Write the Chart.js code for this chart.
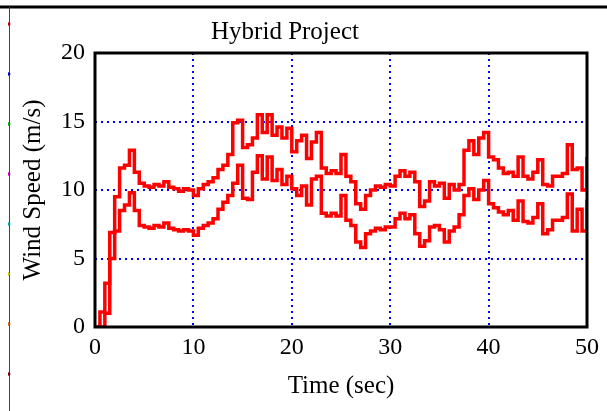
<!DOCTYPE html>
<html>
<head>
<meta charset="utf-8">
<script src="https://cdn.jsdelivr.net/npm/chart.js@4.4.1/dist/chart.umd.min.js"></script>
<style>
  html, body { margin: 0; padding: 0; background: #fff; }
  #wrap { position: relative; width: 607px; height: 411px; }
</style>
</head>
<body>
<div id="wrap"><canvas id="wind-chart" width="607" height="411"></canvas></div>
<script>
// Sample spacing of the traces (sec)
const TIME_STEP = 0.5;

// Upper trace, every 0.5 s from t = 0 to 50
const speedUpper = [
  0, 1.1, 3.2, 6.9, 9.5, 11.6, 11.8, 12.9, 11.3, 10.5,
  10.3, 10.2, 10.4, 10.3, 10.6, 10.2, 10.1, 9.9, 10.1, 10.0,
  9.6, 10.1, 10.4, 10.6, 10.9, 11.5, 11.8, 12.6, 14.9, 15.1,
  13.1, 13.3, 13.8, 15.5, 14.2, 15.5, 14.0, 14.6, 13.8, 14.5,
  12.8, 13.6, 14.0, 12.3, 13.5, 14.2, 11.6, 11.2, 11.4, 11.2,
  12.6, 11.0, 10.6, 9.0, 8.6, 9.6, 10.0, 10.3, 10.2, 10.4,
  10.3, 11.0, 11.4, 11.0, 11.3, 10.6, 8.8, 9.2, 10.6, 10.3,
  10.5, 9.4, 10.4, 10.0, 10.4, 12.9, 13.6, 12.6, 13.8, 14.2,
  12.4, 12.2, 11.6, 11.2, 11.3, 11.0, 12.4, 11.0, 10.8, 11.3,
  12.2, 10.4, 10.3, 11.0, 11.0, 11.2, 13.3, 11.5, 11.6, 10.0,
  12.4
];

// Lower trace, same sampling
const speedLower = [
  0, 0, 1.0, 5.0, 7.0, 8.5, 8.9, 9.8, 8.5, 7.4,
  7.3, 7.2, 7.4, 7.3, 7.6, 7.2, 7.1, 7.0, 7.1, 7.0,
  6.7, 7.2, 7.4, 7.6, 7.9, 8.6, 9.1, 9.6, 10.5, 11.8,
  9.4, 9.3, 11.3, 12.5, 10.8, 12.4, 10.7, 11.5, 10.4, 11.0,
  10.1, 9.6, 10.3, 8.9, 10.8, 11.0, 8.3, 8.1, 8.3, 8.1,
  9.6, 7.8, 7.4, 6.2, 5.8, 6.8, 7.0, 7.2, 7.1, 7.3,
  7.3, 7.9, 8.3, 7.9, 8.2, 6.8, 5.9, 6.3, 7.3, 7.4,
  7.1, 6.2, 7.0, 7.3, 8.2, 9.6, 10.1, 9.3, 10.0, 10.7,
  9.0, 8.7, 8.4, 8.2, 8.5, 7.8, 9.2, 7.7, 7.6, 8.0,
  9.0, 6.8, 7.1, 7.8, 7.8, 8.0, 9.7, 7.0, 8.6, 7.0,
  9.3
];

const xTicks = [0, 10, 20, 30, 40, 50];
const yTicks = [0, 5, 10, 15, 20];

const SERIF = '"Liberation Serif", "Times New Roman", serif';

const toPoints = (arr) => arr.map((v, i) => ({ x: i * TIME_STEP, y: v }));

// Frame around the plot, title and the page edge marks
const framePlugin = {
  id: 'frame',
  afterDraw(chart) {
    const { ctx, chartArea: a } = chart;
    ctx.save();
    ctx.strokeStyle = '#000';
    ctx.lineWidth = 3;
    ctx.strokeRect(a.left, a.top, a.right - a.left, a.bottom - a.top);

    // page edges
    ctx.beginPath();
    ctx.moveTo(0, 7);
    ctx.lineTo(607, 7);
    ctx.stroke();
    ctx.lineWidth = 1;
    ctx.strokeStyle = '#444';
    ctx.beginPath();
    ctx.moveTo(9.5, 7);
    ctx.lineTo(9.5, 411);
    ctx.stroke();
    const marks = ['#c00000', '#0000c0', '#00a000', '#c000c0', '#00a0c0', '#c0c000', '#c06000', '#800000'];
    marks.forEach((c, i) => {
      const y = 24 + i * 50;
      ctx.fillStyle = c;
      ctx.beginPath();
      ctx.moveTo(8, y - 2);
      ctx.lineTo(11, y);
      ctx.lineTo(8, y + 2);
      ctx.fill();
    });

    ctx.fillStyle = '#000';
    ctx.font = '25px ' + SERIF;
    ctx.textAlign = 'center';
    ctx.textBaseline = 'alphabetic';
    ctx.fillText('Hybrid Project', 285, 39);
    ctx.restore();
  }
};

const gridStyle = {
  lineWidth: 2,
  drawTicks: false,
  tickLength: 0,
};

const traceStyle = {
  borderColor: '#ff0000',
  borderWidth: 3.5,
  pointRadius: 0,
  stepped: true,
};

new Chart(document.getElementById('wind-chart'), {
  type: 'line',
  data: {
    datasets: [
      { label: 'Upper', data: toPoints(speedUpper), ...traceStyle },
      { label: 'Lower', data: toPoints(speedLower), ...traceStyle },
    ],
  },
  options: {
    responsive: false,
    animation: false,
    layout: { padding: { top: 53, right: 20, left: 0, bottom: 0 } },
    plugins: {
      legend: { display: false },
      tooltip: { enabled: false },
    },
    scales: {
      x: {
        type: 'linear',
        min: 0,
        max: 50,
        afterBuildTicks: (s) => { s.ticks = xTicks.map(v => ({ value: v })); },
        afterFit: (s) => { s.height = 84; },
        grid: {
          ...gridStyle,
          color: (c) => (c.tick && c.tick.value > 0 && c.tick.value < 50) ? '#0000ff' : 'rgba(0,0,0,0)',
        },
        border: { display: false, dash: [2, 4] },
        ticks: { color: '#000', font: { family: SERIF, size: 24 }, padding: 6, maxRotation: 0 },
        title: {
          display: true,
          text: 'Time (sec)',
          color: '#000',
          font: { family: SERIF, size: 25 },
          padding: { top: 0, bottom: 10 },
        },
      },
      y: {
        min: 0,
        max: 20,
        afterBuildTicks: (s) => { s.ticks = yTicks.map(v => ({ value: v })); },
        afterFit: (s) => { s.width = 95; },
        grid: {
          ...gridStyle,
          color: (c) => (c.tick && c.tick.value > 0 && c.tick.value < 20) ? '#0000ff' : 'rgba(0,0,0,0)',
        },
        border: { display: false, dash: [2, 4] },
        ticks: { color: '#000', font: { family: SERIF, size: 24 }, padding: 10 },
        title: {
          display: true,
          text: 'Wind Speed (m/s)',
          color: '#000',
          font: { family: SERIF, size: 25 },
          padding: { top: 18, bottom: 0 },
        },
      },
    },
  },
  plugins: [framePlugin],
});
</script>
</body>
</html>
